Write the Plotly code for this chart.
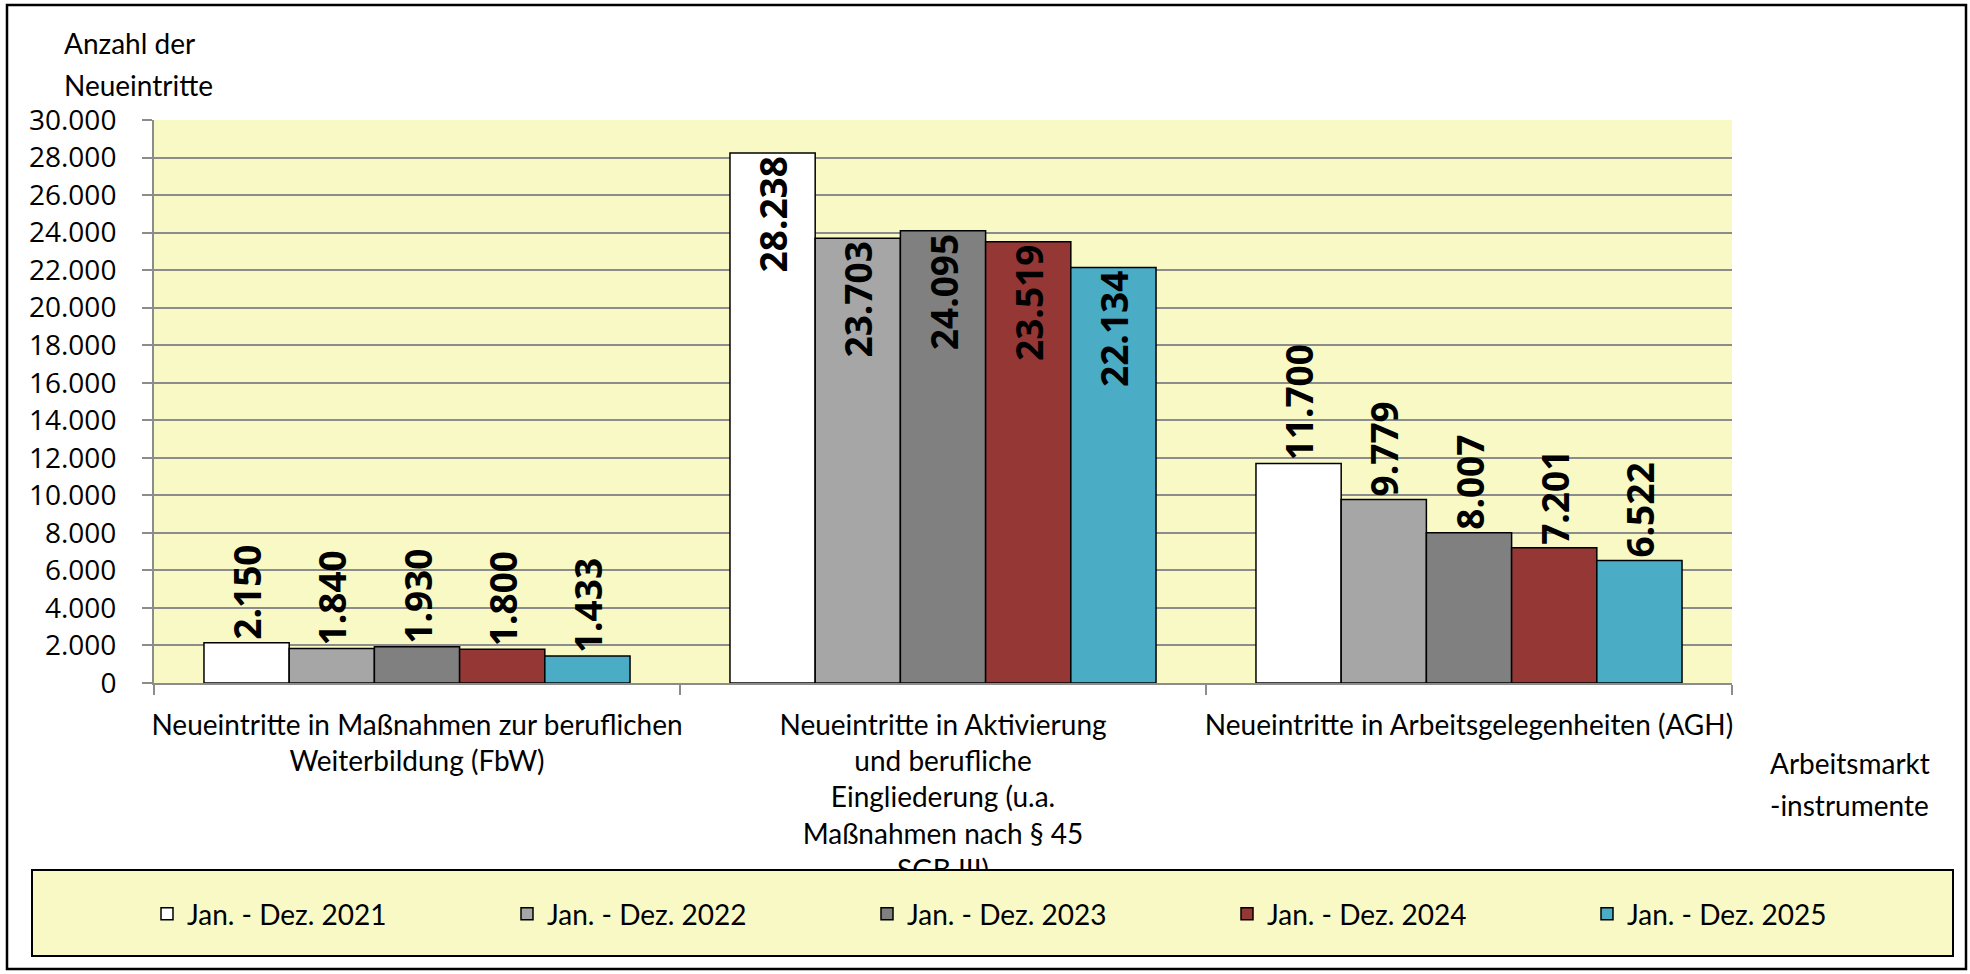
import plotly.graph_objects as go

categories = [
    "Neueintritte in Maßnahmen zur beruflichen<br>Weiterbildung (FbW)",
    "Neueintritte in Aktivierung<br>und berufliche<br>Eingliederung (u.a.<br>Maßnahmen nach § 45<br>SGB III)",
    "Neueintritte in Arbeitsgelegenheiten (AGH)",
]
series_names = ["Jan. - Dez. 2021", "Jan. - Dez. 2022", "Jan. - Dez. 2023",
                "Jan. - Dez. 2024", "Jan. - Dez. 2025"]
values_2021 = [2150, 28238, 11700]
values_2022 = [1840, 23703, 9779]
values_2023 = [1930, 24095, 8007]
values_2024 = [1800, 23519, 7201]
values_2025 = [1433, 22134, 6522]
series_values = [values_2021, values_2022, values_2023, values_2024, values_2025]
colors = ["#FFFFFF", "#A6A6A6", "#808080", "#953735", "#4BACC6"]

W, H = 1970, 974
PL, PR, PT, PB = 154, 1732, 120, 683
pw, ph = PR - PL, PB - PT


def X(px):
    return (px - PL) / pw


def Y(py):
    return (PB - py) / ph


BG = "#F8F9C4"
GRID = "#8C8C8C"
CAL = "Lato"

fig = go.Figure()
for name, vals, col in zip(series_names, series_values, colors):
    fig.add_trace(go.Bar(
        x=categories, y=vals, name=name,
        marker=dict(color=col, line=dict(color="#000000", width=1.5)),
        texttemplate="%{y:,}",
        textposition=["inside" if v > 20000 else "outside" for v in vals],
        insidetextanchor="end",
        textangle=-90,
        constraintext="none",
        cliponaxis=False,
        textfont=dict(family="Open Sans", size=37, color="#000000", weight="bold"),
    ))

shapes = [
    # outer chart border
    dict(type="rect", xref="paper", yref="paper", x0=X(7), x1=X(1966), y0=Y(969), y1=Y(5),
         line=dict(color="#000000", width=2.5), fillcolor="rgba(0,0,0,0)", layer="above"),
    # legend box
    dict(type="rect", xref="paper", yref="paper", x0=X(32), x1=X(1953), y0=Y(956), y1=Y(870),
         line=dict(color="#000000", width=2), fillcolor=BG, layer="above"),
]

annotations = [
    dict(text="Anzahl der", x=X(62), y=Y(43), xref="paper", yref="paper",
         xanchor="left", yanchor="middle", showarrow=False,
         font=dict(family=CAL, size=28, color="#000000")),
    dict(text="Neueintritte", x=X(62), y=Y(85), xref="paper", yref="paper",
         xanchor="left", yanchor="middle", showarrow=False,
         font=dict(family=CAL, size=28, color="#000000")),
    dict(text="Arbeitsmarkt", x=X(1768), y=Y(763), xref="paper", yref="paper",
         xanchor="left", yanchor="middle", showarrow=False,
         font=dict(family=CAL, size=28, color="#000000")),
    dict(text="-instrumente", x=X(1768), y=Y(805), xref="paper", yref="paper",
         xanchor="left", yanchor="middle", showarrow=False,
         font=dict(family=CAL, size=28, color="#000000")),
]

fig.update_layout(
    width=W, height=H,
    margin=dict(l=PL, r=W - PR, t=PT, b=H - PB, autoexpand=False),
    paper_bgcolor="#FFFFFF",
    plot_bgcolor=BG,
    separators=",.",
    barmode="group",
    bargap=0.19,
    bargroupgap=0,
    showlegend=True,
    legend=dict(
        orientation="h", x=X(1947), xanchor="right", y=Y(914), yanchor="middle",
        bgcolor="rgba(0,0,0,0)", borderwidth=0,
        font=dict(family=CAL, size=28, color="#000000"),
        entrywidth=315, entrywidthmode="pixels",
        traceorder="normal",
    ),
    shapes=shapes,
    annotations=annotations,
    xaxis=dict(
        type="category",
        showline=True, linecolor=GRID, linewidth=2,
        ticks="outside", tickson="boundaries", ticklen=10, tickcolor=GRID, tickwidth=2,
        showgrid=False,
        tickfont=dict(family=CAL, size=28, color="#000000"),
        ticklabelstandoff=16,
        tickangle=0,
    ),
    yaxis=dict(
        range=[0, 30000], dtick=2000, tick0=0,
        tickformat=",",
        showline=True, linecolor=GRID, linewidth=2,
        ticks="outside", ticklen=10, tickcolor=GRID, tickwidth=2,
        showgrid=True, gridcolor=GRID, gridwidth=2,
        zeroline=False,
        tickfont=dict(family="Open Sans", size=28, color="#000000"),
        ticklabelstandoff=20,
    ),
)

fig.write_html("out.html", config={"displayModeBar": False},
               post_script="document.body.style.margin='0px';")
